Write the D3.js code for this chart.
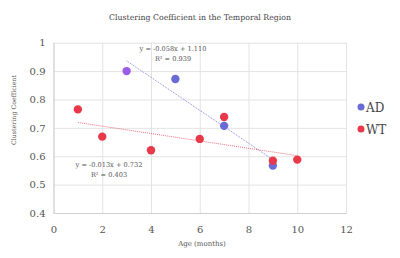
<!DOCTYPE html>
<html>
<head>
<meta charset="utf-8">
<script src="https://cdn.jsdelivr.net/npm/d3@7"></script>
<style>
  body { margin: 0; background: #fff; }
</style>
</head>
<body>
<div class="chart"></div>
<script>
// data
var adAge = [3, 5, 7, 9];
var adValue = [0.90, 0.872, 0.707, 0.567];
var wtAge = [1, 2, 4, 6, 7, 9, 10];
var wtValue = [0.765, 0.669, 0.621, 0.661, 0.738, 0.584, 0.588];
var xTicks = [0, 2, 4, 6, 8, 10, 12];
var yTicks = [0.4, 0.5, 0.6, 0.7, 0.8, 0.9, 1];
var adFit = { slope: -0.058, intercept: 1.110, r2: 0.939, from: 3, to: 9 };
var wtFit = { slope: -0.013, intercept: 0.732, r2: 0.403, from: 1, to: 10 };

var width = 400, height = 258;
var margin = { top: 42.7, right: 54, bottom: 45, left: 53.5 };
var w = width - margin.left - margin.right,
    h = height - margin.top - margin.bottom;

var serif = '"DejaVu Serif", "Liberation Serif", serif';

var svg = d3.select(".chart")
    .append("svg")
    .attr("width", width)
    .attr("height", height);

var g = svg.append("g")
    .attr("transform", "translate(" + margin.left + "," + margin.top + ")");

var x = d3.scaleLinear().domain([0, 12]).range([0, w]);
var y = d3.scaleLinear().domain([0.4, 1]).range([h, 0]);

// gridlines
g.append("g")
    .attr("transform", "translate(0," + h + ")")
    .call(d3.axisBottom(x).tickValues(xTicks).tickSize(-h).tickFormat(""))
    .call(function(s) { s.select(".domain").remove(); })
    .selectAll("line").attr("stroke", "#e3e3e3");

g.append("g")
    .call(d3.axisLeft(y).tickValues(yTicks).tickSize(-w).tickFormat(""))
    .call(function(s) { s.select(".domain").remove(); })
    .selectAll("line").attr("stroke", "#e3e3e3");

// axes
var xAxis = g.append("g")
    .attr("transform", "translate(0," + h + ")")
    .call(d3.axisBottom(x).tickValues(xTicks).tickSize(0).tickPadding(13));
xAxis.attr("font-family", serif);
xAxis.select(".domain").attr("stroke", "#d0d0d0");
xAxis.selectAll("text").style("font-size", "10px").style("fill", "#555");

var yAxis = g.append("g")
    .call(d3.axisLeft(y).tickValues(yTicks).tickSize(0).tickPadding(8)
        .tickFormat(function(d) { return d === 1 ? "1" : d3.format(".1f")(d); }));
yAxis.attr("font-family", serif);
yAxis.select(".domain").attr("stroke", "#d0d0d0");
yAxis.selectAll("text").style("font-size", "10px").style("fill", "#555");

// trendlines
function trend(fit, color) {
    g.append("line")
        .attr("x1", x(fit.from))
        .attr("y1", y(fit.slope * fit.from + fit.intercept))
        .attr("x2", x(fit.to))
        .attr("y2", y(fit.slope * fit.to + fit.intercept))
        .attr("stroke", color)
        .attr("stroke-width", 0.9)
        .attr("stroke-dasharray", "1,1");
}
trend(adFit, "#7b7bd8");
trend(wtFit, "#e8606c");

// dots
var adColors = ["#9a5ee6", "#6b6bd6", "#6b6bd6", "#6b6bd6"];
g.selectAll(".ad")
    .data(adAge)
    .enter()
    .append("circle")
    .attr("cx", function(d) { return x(d); })
    .attr("cy", function(d, i) { return y(adValue[i]); })
    .attr("r", 4.2)
    .style("fill", function(d, i) { return adColors[i]; });

g.selectAll(".wt")
    .data(wtAge)
    .enter()
    .append("circle")
    .attr("cx", function(d) { return x(d); })
    .attr("cy", function(d, i) { return y(wtValue[i]); })
    .attr("r", 4.2)
    .style("fill", "#e8394a");

// equation labels
function fitLabel(fit, cx, cy) {
    var sign = fit.intercept < 0 ? " - " : " + ";
    g.append("text")
        .attr("x", cx).attr("y", cy)
        .attr("text-anchor", "middle")
        .style("font-family", serif).style("font-size", "6.6px").style("fill", "#555")
        .text("y = " + fit.slope.toFixed(3) + "x" + sign + fit.intercept.toFixed(3));
    g.append("text")
        .attr("x", cx).attr("y", cy + 10)
        .attr("text-anchor", "middle")
        .style("font-family", serif).style("font-size", "6.6px").style("fill", "#555")
        .text("R² = " + fit.r2.toFixed(3));
}
fitLabel(adFit, 173 - margin.left, 51 - margin.top);
fitLabel(wtFit, 109 - margin.left, 167 - margin.top);

// title
svg.append("text")
    .attr("x", 200)
    .attr("y", 19.5)
    .attr("text-anchor", "middle")
    .style("font-family", serif).style("font-size", "7.8px").style("fill", "#444")
    .text("Clustering Coefficient in the Temporal Region");

// axis titles
svg.append("text")
    .attr("transform", "translate(16,110) rotate(-90)")
    .attr("text-anchor", "middle")
    .style("font-family", serif).style("font-size", "6.3px").style("fill", "#555")
    .text("Clustering Coefficient");

svg.append("text")
    .attr("x", 202)
    .attr("y", 246)
    .attr("text-anchor", "middle")
    .style("font-family", serif).style("font-size", "7px").style("fill", "#555")
    .text("Age (months)");

// legend
var legend = [["AD", "#6b6bd6"], ["WT", "#e8394a"]];
var lg = svg.selectAll(".legend")
    .data(legend)
    .enter()
    .append("g")
    .attr("transform", function(d, i) { return "translate(361," + (107 + i * 22) + ")"; });
lg.append("circle").attr("r", 3.5).style("fill", function(d) { return d[1]; });
lg.append("text")
    .attr("x", 5).attr("y", 4.5)
    .style("font-family", serif).style("font-size", "12px").style("fill", "#444")
    .text(function(d) { return d[0]; });
</script>
</body>
</html>
